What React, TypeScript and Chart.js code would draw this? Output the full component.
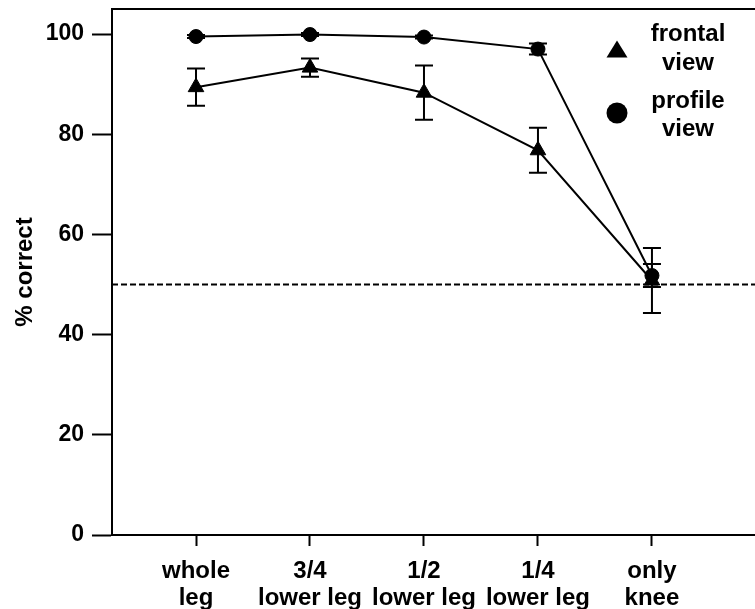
import React, { useEffect, useRef } from "react";
import { Chart, registerables } from "chart.js";

Chart.register(...registerables);

const categories: string[][] = [
  ["whole", "leg"],
  ["3/4", "lower leg"],
  ["1/2", "lower leg"],
  ["1/4", "lower leg"],
  ["only", "knee"],
];
const categoryPositions = [1, 2, 3, 4, 5];
const frontal = [89.4, 93.3, 88.3, 76.8, 50.8];
const frontalErr = [3.7, 1.8, 5.4, 4.5, 6.5];
const profile = [99.5, 99.9, 99.4, 97.0, 51.8];
const profileErr = [0.3, 0.3, 0.3, 1.1, 2.3];
const yTicks = [0, 20, 40, 60, 80, 100];
const chanceLevel = 50;
const legendItems = [
  { style: "triangle", lines: ["frontal", "view"] },
  { style: "circle", lines: ["profile", "view"] },
];

const FONT = "'Liberation Sans', Arial, Helvetica, sans-serif";

export default function App() {
  const ref = useRef<HTMLCanvasElement | null>(null);

  useEffect(() => {
    document.body.style.margin = "0";
    const canvas = ref.current;
    if (!canvas) return;

    const errorBars = {
      id: "errorBars",
      beforeDatasetsDraw(chart: any) {
        const ctx = chart.ctx;
        const x = chart.scales.x;
        const y = chart.scales.y;
        const area = chart.chartArea;
        ctx.save();
        ctx.strokeStyle = "#000";
        ctx.lineWidth = 2;
        ctx.setLineDash([6, 3]);
        const cy = y.getPixelForValue(chanceLevel);
        ctx.beginPath();
        ctx.moveTo(area.left, cy);
        ctx.lineTo(area.right, cy);
        ctx.stroke();
        ctx.setLineDash([]);
        const sets = [
          { vals: frontal, errs: frontalErr },
          { vals: profile, errs: profileErr },
        ];
        const cap = 9;
        sets.forEach((s) => {
          s.vals.forEach((v, i) => {
            const e = s.errs[i];
            if (!e) return;
            const px = x.getPixelForValue(categoryPositions[i]);
            const top = y.getPixelForValue(v + e);
            const bot = y.getPixelForValue(v - e);
            ctx.beginPath();
            ctx.moveTo(px, top);
            ctx.lineTo(px, bot);
            ctx.moveTo(px - cap, top);
            ctx.lineTo(px + cap, top);
            ctx.moveTo(px - cap, bot);
            ctx.lineTo(px + cap, bot);
            ctx.stroke();
          });
        });
        ctx.restore();
      },
      afterDraw(chart: any) {
        const ctx = chart.ctx;
        const area = chart.chartArea;
        ctx.save();
        ctx.strokeStyle = "#000";
        ctx.lineWidth = 2;
        ctx.beginPath();
        ctx.moveTo(area.left - 1, area.top);
        ctx.lineTo(area.right, area.top);
        ctx.stroke();
        ctx.fillStyle = "#000";
        ctx.font = `bold 24px ${FONT}`;
        ctx.textAlign = "center";
        ctx.textBaseline = "middle";
        const markerX = area.right - 138;
        const textX = area.right - 67;
        const rows = [
          { marker: 40, lines: [25, 54] },
          { marker: 104, lines: [92, 120] },
        ];
        legendItems.forEach((item, k) => {
          const r = rows[k];
          const my = area.top + r.marker;
          ctx.beginPath();
          if (item.style === "triangle") {
            const h = 17;
            const w = 21;
            ctx.moveTo(markerX, my - h / 2);
            ctx.lineTo(markerX + w / 2, my + h / 2);
            ctx.lineTo(markerX - w / 2, my + h / 2);
            ctx.closePath();
          } else {
            ctx.arc(markerX, my, 10.5, 0, Math.PI * 2);
          }
          ctx.fill();
          item.lines.forEach((t, j) => {
            ctx.fillText(t, textX, area.top + r.lines[j]);
          });
        });
        ctx.restore();
      },
    };

    const chart = new Chart(canvas, {
      type: "line",
      data: {
        datasets: [
          {
            label: "frontal view",
            data: frontal.map((v, i) => ({ x: categoryPositions[i], y: v })),
            borderColor: "#000",
            backgroundColor: "#000",
            borderWidth: 2,
            pointStyle: "triangle",
            pointRadius: 9,
            pointBorderWidth: 1,
          },
          {
            label: "profile view",
            data: profile.map((v, i) => ({ x: categoryPositions[i], y: v })),
            borderColor: "#000",
            backgroundColor: "#000",
            borderWidth: 2,
            pointStyle: "circle",
            pointRadius: 7,
            pointBorderWidth: 1,
          },
        ],
      },
      options: {
        animation: false,
        responsive: false,
        maintainAspectRatio: false,
        layout: { autoPadding: false, padding: { top: 9, right: 0, left: 0, bottom: 0 } },
        plugins: {
          legend: { display: false },
          tooltip: { enabled: false },
        },
        scales: {
          x: {
            type: "linear",
            min: 0.263,
            max: 5.904,
            afterBuildTicks(scale: any) {
              scale.ticks = categoryPositions.map((v) => ({ value: v }));
            },
            afterFit(scale: any) {
              scale.height = 74;
              scale.paddingLeft = 0;
              scale.paddingRight = 0;
            },
            grid: {
              drawOnChartArea: false,
              drawTicks: true,
              tickLength: 11,
              tickWidth: 2,
              tickColor: "#000",
            },
            border: { display: true, color: "#000", width: 2 },
            ticks: {
              color: "#000",
              padding: 12,
              maxRotation: 0,
              autoSkip: false,
              font: { family: FONT, size: 24, weight: "bold", lineHeight: 1.12 },
              callback: (value: any) => {
                const idx = categoryPositions.indexOf(Number(value));
                return idx >= 0 ? categories[idx] : "";
              },
            },
          },
          y: {
            type: "linear",
            min: 0,
            max: 105,
            afterBuildTicks(scale: any) {
              scale.ticks = yTicks.map((v) => ({ value: v }));
            },
            afterFit(scale: any) {
              scale.width = 112;
              scale.paddingTop = 0;
              scale.paddingBottom = 0;
            },
            grid: {
              drawOnChartArea: false,
              drawTicks: true,
              tickLength: 20,
              tickWidth: 2,
              tickColor: "#000",
            },
            border: { display: true, color: "#000", width: 2 },
            ticks: {
              color: "#000",
              padding: 8,
              font: { family: FONT, size: 23, weight: "bold" },
            },
            title: {
              display: true,
              text: "% correct",
              color: "#000",
              font: { family: FONT, size: 24, weight: "bold" },
              padding: { top: 11, bottom: 0 },
            },
          },
        },
      },
      plugins: [errorBars],
    });

    return () => chart.destroy();
  }, []);

  return (
    <div style={{ width: 755, height: 609 }}>
      <canvas ref={ref} width={755} height={609} style={{ display: "block" }} />
    </div>
  );
}
